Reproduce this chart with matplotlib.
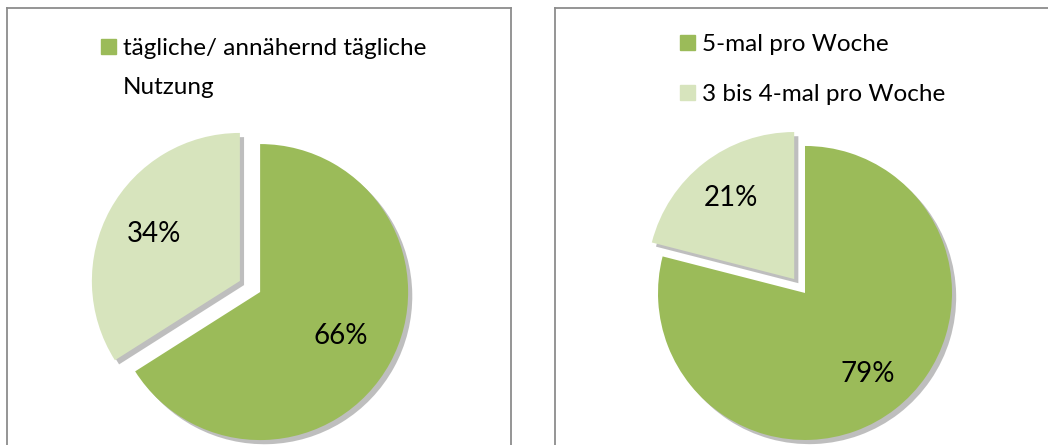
import matplotlib
matplotlib.use("Agg")
import numpy as np
import matplotlib.pyplot as plt
import matplotlib.patheffects as pe
from matplotlib.patches import Patch

plt.rcParams['font.family'] = ['Lato', 'DejaVu Sans']

# --- DATA ---
left_labels = ['tägliche/ annähernd tägliche', '']
left_values = [66, 34]
right_labels = ['5-mal pro Woche', '3 bis 4-mal pro Woche']
right_values = [79, 21]
colors = ['#9BBB59', '#D7E4BD']

W, H = 1048, 445
fig = plt.figure(figsize=(W / 100, H / 100), dpi=100)

shadow = [pe.SimplePatchShadow(offset=(3, -3), shadow_rgbFace='#7f7f7f', alpha=0.5), pe.Normal()]


def panel(x0, x1, top):
    ax = fig.add_axes([x0 / W, 0, (x1 - x0) / W, (H - top) / H])
    return ax


def frame(ax, w, h):
    ax.set_frame_on(True)
    ax.set_aspect('equal')
    ax.set_xlim(0, w)
    ax.set_ylim(0, h)
    ax.set_xticks([])
    ax.set_yticks([])
    for s in ax.spines.values():
        s.set_visible(True)
        s.set_color('#8c8c8c')
        s.set_linewidth(1.3)
    ax.spines['bottom'].set_visible(False)


def draw_pie(ax, values, center, radius, explode, pctdist):
    wedges = ax.pie(values, colors=colors, startangle=90, counterclock=False,
                    center=center, radius=radius,
                    explode=[e * radius for e in explode],
                    wedgeprops=dict(linewidth=0))[0]
    for w in wedges:
        w.set_path_effects(shadow)
    # percentage labels along each wedge bisector
    total = sum(values)
    for w, v, d in zip(wedges, values, pctdist):
        theta = np.radians((w.theta1 + w.theta2) / 2)
        cx, cy = w.center
        ax.text(cx + d * radius * np.cos(theta),
                cy + d * radius * np.sin(theta),
                f'{round(v / total * 100)}%', ha='center', va='center', fontsize=20)
    return wedges


# left panel
ax1 = panel(7, 511, 8)
draw_pie(ax1, left_values, (250 - 7, H - 286.5), 148, [0.078, 0.078], [0.62, 0.66])
frame(ax1, 504, H - 8)
ax1.legend([Patch(color=colors[0])], [left_labels[0]], loc='upper left',
           bbox_to_anchor=(101 - 7, H - 38), bbox_transform=ax1.transData,
           frameon=False, fontsize=17.5, handlelength=0.62, handleheight=0.62,
           handletextpad=0.3, borderpad=0, borderaxespad=0)
ax1.text(123 - 7, H - 94, 'Nutzung', fontsize=17.5, ha='left', va='baseline')

# right panel
ax2 = panel(555, 1052, 8)
draw_pie(ax2, right_values, (799.6 - 555, H - 286), 147, [0.06, 0.06], [0.7, 0.7])
frame(ax2, 497, H - 8)
ax2.legend([Patch(color=c) for c in colors], right_labels, loc='upper left',
           bbox_to_anchor=(680 - 555, H - 34), bbox_transform=ax2.transData,
           frameon=False, fontsize=17.5, handlelength=0.62, handleheight=0.62,
           handletextpad=0.3, borderpad=0, borderaxespad=0, labelspacing=1.2)

fig.savefig('out.png', dpi=100)
